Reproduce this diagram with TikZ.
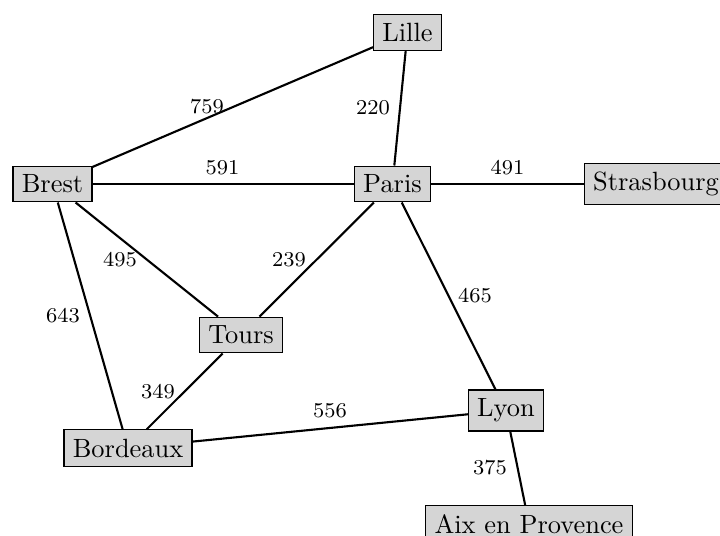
\documentclass[tikz,border=0pt]{standalone}
\begin{document}
\begin{tikzpicture}[x=0.3788pt,y=-0.3788pt,
  city/.style={draw=black,fill=gray!33,line width=0.4pt,inner sep=0.3333em},
  road/.style={line width=0.8pt},
  dist/.style={font=\footnotesize,inner sep=0pt}]
\useasboundingbox (0,0) rectangle (720,536);
% cities
\node[city] (lille) at (407.5,32.5) {Lille};
\node[city] (brest) at (52.5,184) {Brest};
\node[city] (paris) at (392.5,184) {Paris};
\node[city] (strasbourg) at (656,184) {Strasbourg};
\node[city] (tours) at (241,335) {Tours};
\node[city] (lyon) at (506,410.5) {Lyon};
\node[city] (bordeaux) at (128,448) {Bordeaux};
\node[city] (aix) at (529,524) {Aix en Provence};
% roads
\draw[road] (brest) -- (lille);
\draw[road] (lille) -- (paris);
\draw[road] (brest) -- (paris);
\draw[road] (paris) -- (strasbourg);
\draw[road] (brest) -- (tours);
\draw[road] (paris) -- (tours);
\draw[road] (brest) -- (bordeaux);
\draw[road] (paris) -- (lyon);
\draw[road] (tours) -- (bordeaux);
\draw[road] (bordeaux) -- (lyon);
\draw[road] (lyon) -- (aix);
% distances
\node[dist] (d759) at (207,107) {759};
\node[dist] (d220) at (373,107.5) {220};
\node[dist] (d591) at (222.5,167.5) {591};
\node[dist] (d491) at (507.5,167.5) {491};
\node[dist] (d495) at (120,259.5) {495};
\node[dist] (d239) at (289,259.5) {239};
\node[dist] (d643) at (63,316) {643};
\node[dist] (d465) at (475,296) {465};
\node[dist] (d349) at (158,392) {349};
\node[dist] (d556) at (330,411) {556};
\node[dist] (d375) at (490,468) {375};
\end{tikzpicture}
\end{document}
